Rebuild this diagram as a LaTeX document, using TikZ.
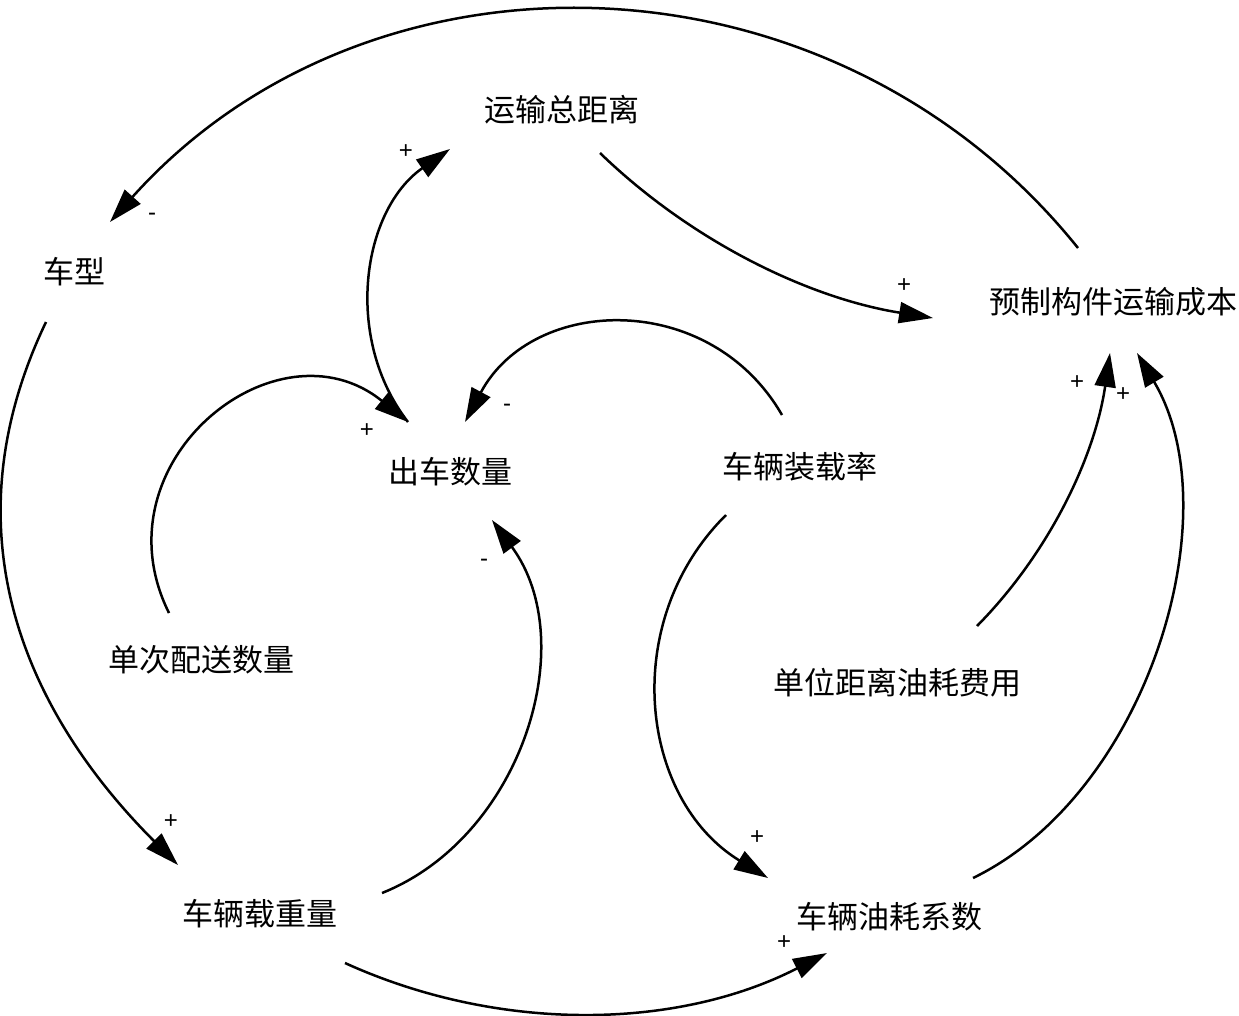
\documentclass[tikz,border=0pt]{standalone}
\usepackage{fontspec}
\setmainfont{Liberation Sans}
\newfontfamily\cjk{Noto Sans CJK SC}
\usetikzlibrary{arrows.meta}
\begin{document}
\begin{tikzpicture}[x=1pt,y=-1pt,
  var/.style={inner sep=0pt, font=\cjk\fontsize{31}{36}\selectfont},
  link/.style={line width=2.5pt, -{Triangle[length=34pt,width=21pt]}},
  pol/.style={inner sep=0pt, font=\fontsize{24}{26}\selectfont}]
\useasboundingbox[fill=white] (0,0) rectangle (1239,1015);
% variables
\node[var] (dist)  at (562,110) {运输总距离};
\node[var] (type)  at (74,272)  {车型};
\node[var] (cost)  at (1113,302) {预制构件运输成本};
\node[var] (trips) at (450,472) {出车数量};
\node[var] (load)  at (800,467) {车辆装载率};
\node[var] (batch) at (201,660) {单次配送数量};
\node[var] (unit)  at (897,683) {单位距离油耗费用};
\node[var] (wt)    at (260,914) {车辆载重量};
\node[var] (fuel)  at (889,917) {车辆油耗系数};
% links
\draw[link] ([shift={(-35,-54)}]cost.center) .. controls +(-245,-305) and +(261,-291) .. ([shift={(36,-50)}]type.center);
\draw[link] ([shift={(38,43)}]dist.center) .. controls +(91,88) and +(-125,-20) .. ([shift={(-180,16)}]cost.center);
\draw[link] ([shift={(-42,-50)}]trips.center) .. controls +(-65,-84) and +(-88,61) .. ([shift={(-112,39)}]dist.center);
\draw[link] ([shift={(-32,-47)}]batch.center) .. controls +(-75,-151) and +(-131,-106) .. ([shift={(-42,-50)}]trips.center);
\draw[link] ([shift={(-18,-52)}]load.center) .. controls +(-72,-125) and +(68,-127) .. ([shift={(15,-50)}]trips.center);
\draw[link] ([shift={(122,-21)}]wt.center) .. controls +(140,-56) and +(90,122) .. ([shift={(42,48)}]trips.center);
\draw[link] ([shift={(-28,50)}]type.center) .. controls +(-99,207) and +(-156,-156) .. ([shift={(-82,-49)}]wt.center);
\draw[link] ([shift={(85,49)}]wt.center) .. controls +(154,70) and +(-150,77) .. ([shift={(-62,36)}]fuel.center);
\draw[link] ([shift={(-74,48)}]load.center) .. controls +(-107,106) and +(-129,-79) .. ([shift={(-121,-39)}]fuel.center);
\draw[link] ([shift={(84,-39)}]fuel.center) .. controls +(175,-85) and +(95,160) .. ([shift={(24,51)}]cost.center);
\draw[link] ([shift={(80,-57)}]unit.center) .. controls +(73,-74) and +(-15,103) .. ([shift={(-3,51)}]cost.center);
% polarities
\node[pol] (p1)  at (152,217) {-};
\node[pol] (p2)  at (904,286) {+};
\node[pol] (p3)  at (406,152) {+};
\node[pol] (p4)  at (367,431) {+};
\node[pol] (p5)  at (507,408) {-};
\node[pol] (p6)  at (484,563) {-};
\node[pol] (p7)  at (171,822) {+};
\node[pol] (p8)  at (784,943) {+};
\node[pol] (p9)  at (757,838) {+};
\node[pol] (p10) at (1123,395) {+};
\node[pol] (p11) at (1077,383) {+};
\end{tikzpicture}
\end{document}
